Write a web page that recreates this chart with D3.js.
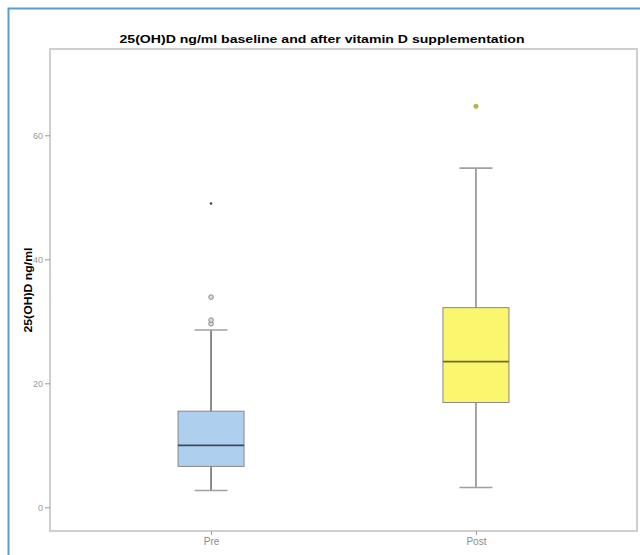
<!DOCTYPE html>
<html>
<head>
<meta charset="utf-8">
<script src="https://cdn.jsdelivr.net/npm/d3@7"></script>
<style>
  body { margin: 0; background: #fff; }
  svg { display: block; font-family: "Liberation Sans", Arial, sans-serif; }
</style>
</head>
<body>
<svg width="640" height="555"></svg>
<script>
(function(){
  // values
  var groups = ["Pre", "Post"];
  var whiskerLow = [2.7, 3.2];
  var q1 = [6.6, 16.9];
  var median = [10.0, 23.5];
  var q3 = [15.5, 32.2];
  var whiskerHigh = [28.6, 54.7];
  var outliers = [[29.6, 30.2, 33.9], []];   // circles
  var extremes = [[49.0], [64.7]];           // stars / far out
  var yTicks = [0, 20, 40, 60];
  var fills = ["#aecfee", "#faf76e"];

  var svg = d3.select("svg");
  var left = 50, right = 637, top = 49, bottom = 531;

  var x = d3.scalePoint().domain(groups).range([left, right]).padding(0.608);
  var y = d3.scaleLinear().domain([0, 60]).range([507.3, 135.3]);

  // outer blue border
  svg.append("path")
    .attr("d", "M8.5,555 L8.5,8.5 L640,8.5")
    .attr("fill", "none").attr("stroke", "#5b9bd5").attr("stroke-width", 2);

  // title (reference is stretched a bit wide)
  svg.append("text")
    .attr("x", 322).attr("y", 43)
    .attr("text-anchor", "middle")
    .attr("textLength", 405).attr("lengthAdjust", "spacingAndGlyphs")
    .style("font-size", "11px").style("font-weight", "bold")
    .text("25(OH)D ng/ml baseline and after vitamin D supplementation");

  // frame
  svg.append("rect")
    .attr("x", left).attr("y", top)
    .attr("width", right - left).attr("height", bottom - top)
    .attr("fill", "#fff").attr("stroke", "#cfcfcf").attr("stroke-width", 2);

  var yAxis = svg.append("g")
    .attr("transform", "translate(" + left + ",0)")
    .call(d3.axisLeft(y).tickValues(yTicks).tickSize(5).tickPadding(2));
  yAxis.select(".domain").remove();
  yAxis.selectAll("line").attr("stroke", "#999");
  yAxis.selectAll("text").attr("fill", "#999").style("font-size", "9px");

  var xAxis = svg.append("g")
    .attr("transform", "translate(0," + bottom + ")")
    .call(d3.axisBottom(x).tickSize(4).tickPadding(3));
  xAxis.select(".domain").remove();
  xAxis.selectAll("line").attr("stroke", "#999");
  xAxis.selectAll("text").attr("fill", "#8a8a8a").style("font-size", "10px");

  svg.append("text")
    .attr("transform", "translate(32," + ((top + bottom) / 2) + ") rotate(-90)")
    .attr("text-anchor", "middle")
    .attr("textLength", 85).attr("lengthAdjust", "spacingAndGlyphs")
    .style("font-size", "10px").style("font-weight", "bold")
    .text("25(OH)D ng/ml");

  var boxW = 66, capW = 33;

  groups.forEach(function(g, i){
    var cx = x(g);
    var b = svg.append("g");
    // whisker stem
    b.append("line")
      .attr("x1", cx).attr("x2", cx)
      .attr("y1", y(whiskerLow[i])).attr("y2", y(whiskerHigh[i]))
      .attr("stroke", i === 0 ? "#666" : "#888").attr("stroke-width", 1.5);
    [whiskerLow[i], whiskerHigh[i]].forEach(function(v){
      b.append("line")
        .attr("x1", cx - capW / 2).attr("x2", cx + capW / 2)
        .attr("y1", y(v)).attr("y2", y(v))
        .attr("stroke", "#a0a0a0").attr("stroke-width", 1.6);
    });
    b.append("rect")
      .attr("x", cx - boxW / 2).attr("y", y(q3[i]))
      .attr("width", boxW).attr("height", y(q1[i]) - y(q3[i]))
      .attr("fill", fills[i]).attr("stroke", "#888").attr("stroke-width", 1);
    b.append("line")
      .attr("x1", cx - boxW / 2).attr("x2", cx + boxW / 2)
      .attr("y1", y(median[i])).attr("y2", y(median[i]))
      .attr("stroke", i === 0 ? "#3d4a58" : "#6e6c30").attr("stroke-width", 1.8);

    b.selectAll(".out").data(outliers[i]).enter().append("circle")
      .attr("cx", cx).attr("cy", function(d){ return y(d); })
      .attr("r", 2.3)
      .attr("fill", "#ddd").attr("stroke", "#888").attr("stroke-width", 1);

    b.selectAll(".ext").data(extremes[i]).enter().append("circle")
      .attr("cx", cx).attr("cy", function(d){ return y(d); })
      .attr("r", i === 0 ? 1.3 : 2.5)
      .attr("fill", i === 0 ? "#444" : "#b8b44c");
  });
})();
</script>
</body>
</html>
